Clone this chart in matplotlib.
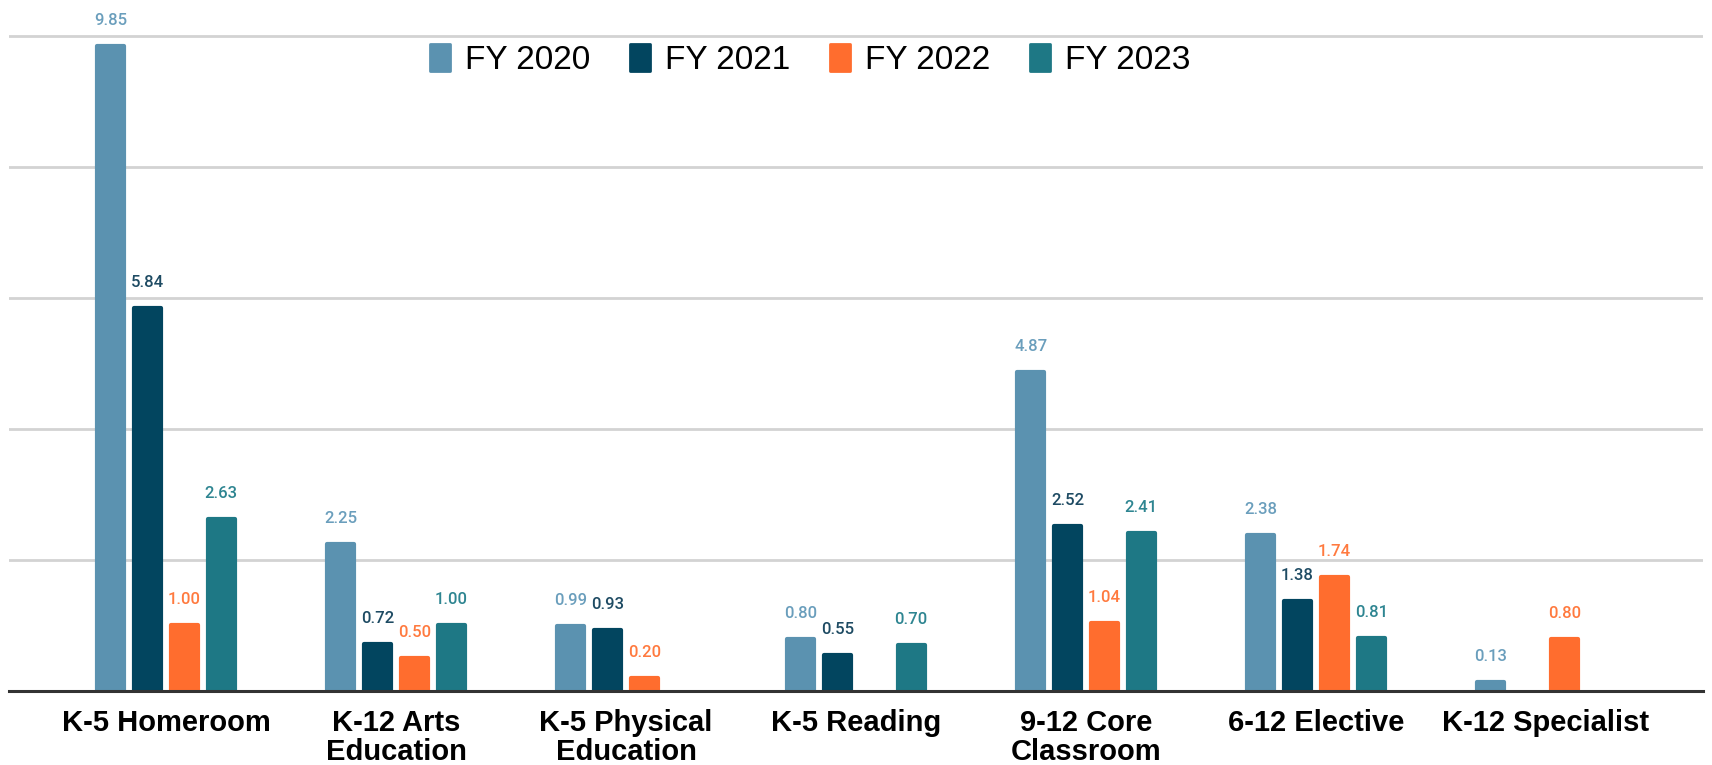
import matplotlib.pyplot as plt
import numpy as np

# Kategorien und Werte
categories = ["K-5 Homeroom", "K-12 Arts\nEducation", "K-5 Physical\nEducation",
              "K-5 Reading", "9-12 Core\nClassroom", "6-12 Elective", "K-12 Specialist"]
series = ["FY 2020", "FY 2021", "FY 2022", "FY 2023"]
fy2020 = [9.85, 2.25, 0.99, 0.80, 4.87, 2.38, 0.13]
fy2021 = [5.84, 0.72, 0.93, 0.55, 2.52, 1.38, np.nan]
fy2022 = [1.00, 0.50, 0.20, np.nan, 1.04, 1.74, 0.80]
fy2023 = [2.63, 1.00, np.nan, 0.70, 2.41, 0.81, np.nan]
values = [fy2020, fy2021, fy2022, fy2023]

bar_colors = ["#5B92B0", "#02455F", "#FF6D2E", "#1E7885"]
label_colors = ["#6A9EBC", "#1E4B63", "#FF7A3F", "#2E8591"]

fig = plt.figure(figsize=(17.12, 7.65), dpi=100)
ax = fig.add_axes([9 / 1712, 74 / 765, 1694 / 1712, 657 / 765])

x = np.arange(len(categories))
pitch = 0.16
width = 0.118

for i, (name, vals) in enumerate(zip(series, values)):
    pos = x + (i - 1.5) * pitch
    ax.bar(pos, vals, width, color=bar_colors[i], edgecolor=bar_colors[i],
           linewidth=3, joinstyle="round", label=name, zorder=2)
    for p, v in zip(pos, vals):
        if np.isnan(v):
            continue
        ax.annotate(f"{v:.2f}", (p, v), xytext=(0, 13), textcoords="offset points",
                    ha="center", va="bottom", fontsize=12, family="Roboto",
                    fontweight="medium", color=label_colors[i])

ax.set_xlim(-0.683, 6.683)
ax.set_ylim(0, 10.03)
ax.set_yticks([2, 4, 6, 8, 10])
ax.yaxis.grid(True, color="#D3D3D3", linewidth=2)
ax.set_axisbelow(True)
ax.tick_params(axis="y", left=False, labelleft=False)
ax.tick_params(axis="x", length=0, pad=13)
ax.set_xticks(x)
ax.set_xticklabels(categories, fontsize=21, fontweight="bold", family="Liberation Sans",
                   linespacing=1.05)
for s in ax.spines.values():
    s.set_visible(False)
ax.axhline(0, color="#333333", linewidth=2.2, zorder=4, clip_on=False)

leg = ax.legend(loc="center", bbox_to_anchor=(0.473, 0.96), ncol=4, frameon=False,
                prop={"family": "Liberation Sans", "size": 24}, handlelength=0.6,
                handleheight=0.85, handletextpad=0.45, columnspacing=1.2, borderpad=0)
# leicht abgerundete Legendenfelder
for h in leg.legend_handles:
    h.set_edgecolor(h.get_facecolor())
    h.set_linewidth(2)
    h.set_joinstyle("round")

fig.savefig("out.png", dpi=100)
